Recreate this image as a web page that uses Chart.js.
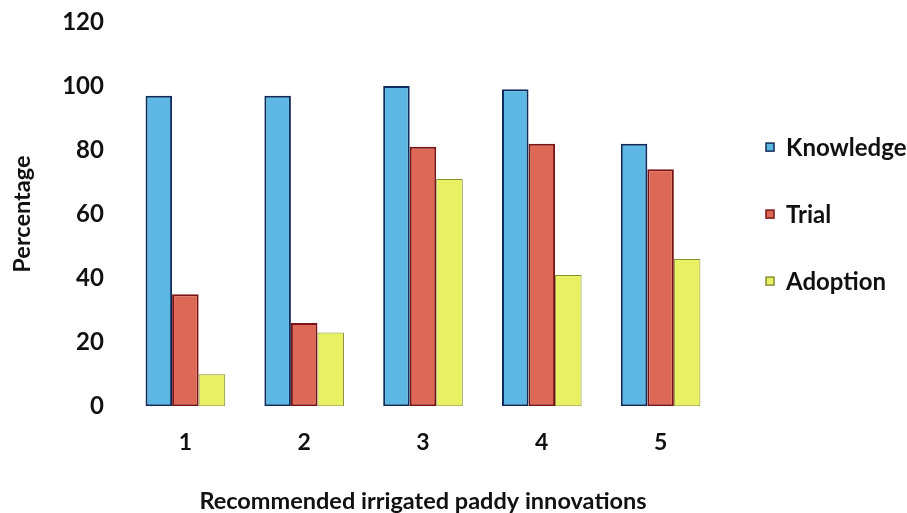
<!DOCTYPE html>
<html>
<head>
<meta charset="utf-8">
<script src="https://cdn.jsdelivr.net/npm/chart.js@4/dist/chart.umd.min.js"></script>
<style>
  html, body { margin: 0; padding: 0; background: #ffffff; }
  #wrap { width: 907px; height: 513px; position: relative; }
</style>
</head>
<body>
<div id="wrap"><canvas id="c" width="907" height="513"></canvas></div>
<script>
const categories = ["1", "2", "3", "4", "5"];
const knowledge = [97, 97, 100, 99, 82];
const trial = [35, 26, 81, 82, 74];
const adoption = [10, 23, 71, 41, 46];
const yTicks = [0, 20, 40, 60, 80, 100, 120];
const seriesNames = ["Knowledge", "Trial", "Adoption"];
const xTitle = "Recommended irrigated paddy innovations";
const yTitle = "Percentage";

const FONT = "Lato, 'DejaVu Sans', sans-serif";

const sideLegend = {
  id: "sideLegend",
  afterDraw(chart) {
    const { ctx, chartArea } = chart;
    const mid = (chartArea.top + chartArea.bottom) / 2;
    ctx.save();
    ctx.font = "bold 24px " + FONT;
    ctx.textBaseline = "middle";
    ctx.textAlign = "left";
    chart.data.datasets.forEach((ds, i) => {
      const cy = mid + (i - 1) * 67;
      const bx = chartArea.right + 46;
      ctx.fillStyle = ds.backgroundColor;
      ctx.fillRect(bx, cy - 4, 8, 8);
      ctx.strokeStyle = ds.borderColor;
      ctx.lineWidth = 1.5;
      ctx.strokeRect(bx, cy - 4, 8, 8);
      ctx.fillStyle = "#111111";
      ctx.fillText(ds.label, chartArea.right + 66, cy + 1);
    });
    ctx.restore();
  }
};

new Chart(document.getElementById("c"), {
  type: "bar",
  data: {
    labels: categories,
    datasets: [
      { label: seriesNames[0], data: knowledge, backgroundColor: "#5cb8e2", borderColor: "#0d2b5c", borderWidth: 2, borderSkipped: false },
      { label: seriesNames[1], data: trial, backgroundColor: "#dc6855", borderColor: "#7a1414", borderWidth: 2, borderSkipped: false },
      { label: seriesNames[2], data: adoption, backgroundColor: "#e8f162", borderColor: "#8a8f3a", borderWidth: 1, borderSkipped: false }
    ]
  },
  plugins: [sideLegend],
  options: {
    responsive: false,
    animation: false,
    devicePixelRatio: 1,
    layout: { padding: { top: 22, right: 187, bottom: -3, left: 8 } },
    datasets: { bar: { categoryPercentage: 0.67, barPercentage: 1.0 } },
    plugins: {
      legend: { display: false },
      tooltip: { enabled: false }
    },
    scales: {
      x: {
        grid: { display: false, drawTicks: false },
        border: { display: false },
        ticks: { color: "#111111", padding: 23, font: { family: FONT, size: 23, weight: "bold" } },
        title: { display: true, text: xTitle, color: "#111111", padding: { top: 8, bottom: 0 }, font: { family: FONT, size: 23.5, weight: "bold" } }
      },
      y: {
        min: 0,
        max: 120,
        afterBuildTicks: (axis) => { axis.ticks = yTicks.map(v => ({ value: v })); },
        afterFit: (axis) => { axis.paddingTop = 0; },
        grid: { display: false, drawTicks: false },
        border: { display: false },
        ticks: { color: "#111111", padding: 22, font: { family: FONT, size: 24, weight: "bold" } },
        title: { display: true, text: yTitle, color: "#111111", padding: { top: 0, bottom: 4 }, font: { family: FONT, size: 23.5, weight: "bold" } }
      }
    }
  }
});
</script>
</body>
</html>
